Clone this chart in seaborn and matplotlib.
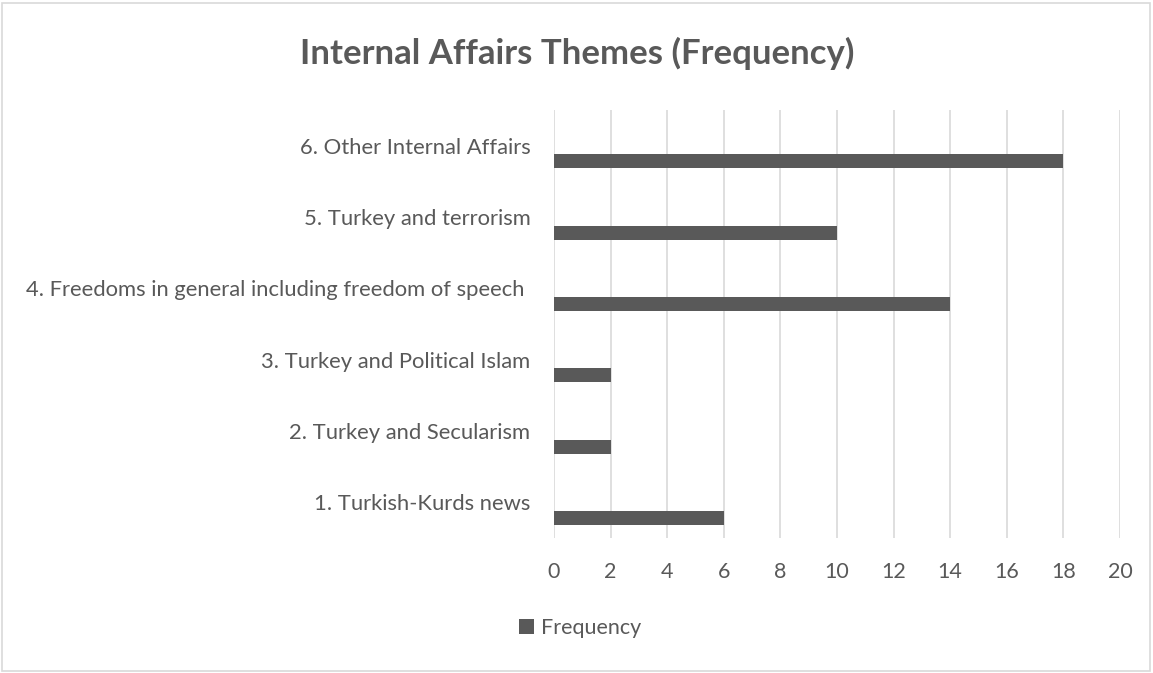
import numpy as np
import pandas as pd
import seaborn as sns
import matplotlib.pyplot as plt
from matplotlib.patches import Rectangle

categories = [
    "1. Turkish-Kurds news",
    "2. Turkey and Secularism",
    "3. Turkey and Political Islam",
    "4. Freedoms in general including freedom of speech ",
    "5. Turkey and terrorism",
    "6. Other Internal Affairs",
]
frequency = [6, 2, 2, 14, 10, 18]
x_ticks = [0, 2, 4, 6, 8, 10, 12, 14, 16, 18, 20]
series_name = "Frequency"
title = "Internal Affairs Themes (Frequency)"

sns.set_theme(style="white")
plt.rcParams["font.family"] = ["Lato", "DejaVu Sans"]

TEXT = "#595959"
BAR = "#595959"
GRID = "#d9d9d9"

# category 6 on top, category 1 at the bottom
order = list(reversed(categories))
pos = np.arange(len(order))
bar_offset = 0.22  # bar sits in the lower part of each band
df = pd.DataFrame({
    "category": order,
    "value": [frequency[categories.index(c)] for c in order],
})
df["ypos"] = pos + bar_offset

fig = plt.figure(figsize=(11.53, 6.73), dpi=100)
ax = fig.add_axes([554 / 1153, 1 - 538 / 673, (1120 - 554) / 1153, (538 - 110) / 673])

sns.barplot(data=df, x="value", y="ypos", orient="h", native_scale=True,
            width=0.2, color=BAR, saturation=1, linewidth=0, ax=ax)

ax.set_ylim(len(order) - 0.5, -0.5)
ax.set_xlim(0, 20)
ax.set_yticks(pos)
ax.set_yticklabels(order)
ax.set_xticks(x_ticks)
ax.set_xticklabels([str(t) for t in x_ticks])
ax.set_xlabel("")
ax.set_ylabel("")

ax.grid(axis="x", color=GRID, linewidth=1.2)
ax.set_axisbelow(True)
for s in ax.spines.values():
    s.set_visible(False)
ax.tick_params(axis="x", length=0, colors=TEXT, labelsize=15.5, pad=17)
ax.tick_params(axis="y", length=0, colors=TEXT, labelsize=15.8, pad=17)
for lab in ax.get_xticklabels() + ax.get_yticklabels():
    lab.set_color(TEXT)

fig.text(577 / 1153, 1 - 53 / 673, title, ha="center", va="center",
         fontsize=25, fontweight="bold", color=TEXT)

handle = Rectangle((0, 0), 1, 1, facecolor=BAR, edgecolor="none")
fig.legend([handle], [series_name], loc="center", bbox_to_anchor=(580 / 1153, 1 - 628 / 673),
           frameon=False, fontsize=15.5, labelcolor=TEXT, handlelength=0.7, handleheight=0.7,
           handletextpad=0.3)

# chart border
fig.add_artist(Rectangle((2 / 1153, 2 / 673), 1 - 5 / 1153, 1 - 5 / 673,
                         transform=fig.transFigure, fill=False, edgecolor=GRID, linewidth=1.2))

fig.savefig("out.png", dpi=100)
